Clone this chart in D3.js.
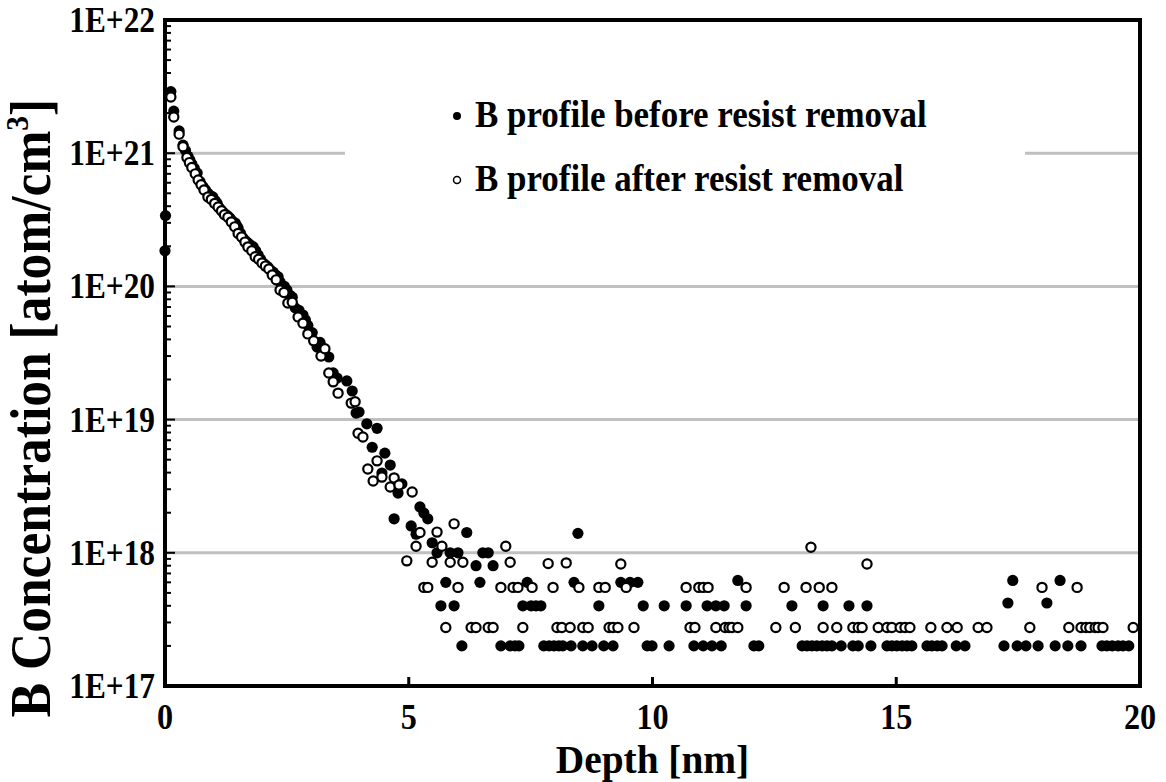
<!DOCTYPE html>
<html>
<head>
<meta charset="utf-8">
<script src="https://cdn.jsdelivr.net/npm/d3@7"></script>
<style>
  body { margin: 0; background: #fff; }
  text { font-family: "Liberation Serif", "Times New Roman", serif; font-weight: bold; fill: #000; }
</style>
</head>
<body>
<svg id="chart"></svg>
<script>
// depth [nm], B concentration [atom/cm3]
let beforeProfile = [
  [0.00, 1.85e20], [0.01, 3.4e20], [0.12, 2.9e21], [0.18, 2.07e21], [0.29, 1.47e21], [0.37, 1.15e21],
  [0.42, 1.05e21], [0.47, 9.5e20], [0.51, 8.9e20], [0.55, 8.3e20], [0.60, 7.7e20], [0.66, 7.1e20],
  [0.72, 6.1e20], [0.78, 5.6e20], [0.83, 5.3e20], [0.88, 5.0e20], [0.93, 4.8e20], [0.98, 4.7e20],
  [1.03, 4.4e20], [1.07, 4.2e20], [1.11, 3.9e20], [1.15, 3.75e20], [1.19, 3.6e20], [1.23, 3.5e20],
  [1.28, 3.4e20], [1.33, 3.27e20], [1.38, 3.1e20], [1.44, 2.99e20], [1.47, 2.85e20], [1.50, 2.74e20],
  [1.55, 2.5e20], [1.60, 2.31e20], [1.65, 2.2e20], [1.70, 2.12e20], [1.75, 2.05e20], [1.81, 1.98e20],
  [1.86, 1.85e20], [1.91, 1.72e20], [1.96, 1.6e20], [2.01, 1.5e20], [2.06, 1.45e20], [2.11, 1.4e20],
  [2.16, 1.33e20], [2.22, 1.28e20], [2.27, 1.22e20], [2.32, 1.18e20], [2.36, 1.08e20], [2.45, 1.0e20],
  [2.50, 9.4e19], [2.56, 8.6e19], [2.61, 8.3e19], [2.67, 6.9e19], [2.75, 6.6e19], [2.83, 6.1e19],
  [2.88, 5.6e19], [2.93, 5.1e19], [3.02, 4.5e19], [3.12, 3.5e19], [3.18, 3.8e19], [3.27, 3.3e19],
  [3.36, 2.95e19], [3.45, 2.24e19], [3.53, 2.05e19], [3.73, 1.95e19], [3.84, 1.64e19], [3.92, 1.12e19],
  [3.98, 1.14e19], [4.14, 9.3e18], [4.25, 6.2e18], [4.35, 8.6e18], [4.45, 3.97e18], [4.51, 5.6e18],
  [4.62, 4.56e18], [4.70, 1.8e18], [4.78, 2.81e18], [4.86, 3.29e18], [5.05, 1.59e18], [5.15, 1.38e18],
  [5.23, 2.21e18], [5.31, 1.99e18], [5.39, 1.8e18], [5.48, 1.19e18], [5.58, 1.0e18], [5.66, 4e17],
  [5.76, 6e17], [5.85, 1.0e18], [5.93, 4e17], [6.01, 1.0e18], [6.09, 2e17], [6.19, 1.42e18],
  [6.38, 8e17], [6.46, 6e17], [6.52, 1.0e18], [6.63, 1.0e18], [6.73, 8e17], [6.89, 2e17],
  [7.08, 2e17], [7.18, 2e17], [7.26, 2e17], [7.34, 4e17], [7.43, 6e17], [7.51, 4e17],
  [7.61, 4e17], [7.71, 4e17], [7.77, 2e17], [7.88, 2e17], [7.98, 2e17], [8.08, 2e17],
  [8.16, 2e17], [8.33, 2e17], [8.39, 6e17], [8.47, 1.4e18], [8.57, 2e17], [8.76, 2e17],
  [8.90, 4e17], [9.00, 2e17], [9.19, 2e17], [9.35, 6e17], [9.54, 6e17], [9.70, 6e17],
  [9.81, 4e17], [9.89, 2e17], [9.99, 2e17], [10.24, 4e17], [10.34, 2e17], [10.69, 4e17],
  [10.85, 2e17], [11.04, 2e17], [11.12, 4e17], [11.22, 2e17], [11.30, 4e17], [11.41, 2e17],
  [11.47, 4e17], [11.75, 6.2e17], [11.92, 4e17], [12.08, 2e17], [12.18, 2e17], [12.86, 4e17],
  [13.07, 2e17], [13.17, 2e17], [13.27, 2e17], [13.37, 2e17], [13.48, 2e17], [13.50, 4e17],
  [13.58, 2e17], [13.68, 2e17], [13.87, 2e17], [14.03, 4e17], [14.11, 2e17], [14.22, 2e17],
  [14.40, 4e17], [14.48, 2e17], [14.81, 2e17], [14.91, 2e17], [15.01, 2e17], [15.12, 2e17],
  [15.22, 2e17], [15.32, 2e17], [15.63, 2e17], [15.73, 2e17], [15.84, 2e17], [15.94, 2e17],
  [16.23, 2e17], [16.41, 2e17], [17.21, 2e17], [17.29, 4.2e17], [17.39, 6.2e17], [17.48, 2e17],
  [17.66, 2e17], [17.91, 2e17], [18.09, 4.2e17], [18.26, 2e17], [18.36, 6.2e17], [18.52, 2e17],
  [18.79, 2e17], [19.22, 2e17], [19.32, 2e17], [19.43, 2e17], [19.55, 2e17], [19.65, 2e17],
  [19.77, 2e17]
];

let afterProfile = [
  [0.12, 2.64e21], [0.18, 1.87e21], [0.29, 1.39e21], [0.37, 1.12e21], [0.45, 9.3e20], [0.50, 8.5e20],
  [0.55, 7.8e20], [0.62, 7.0e20], [0.68, 6.3e20], [0.74, 5.8e20], [0.80, 5.3e20], [0.88, 4.7e20],
  [0.95, 4.5e20], [1.02, 4.2e20], [1.09, 3.95e20], [1.16, 3.7e20], [1.22, 3.45e20], [1.29, 3.3e20],
  [1.36, 3.05e20], [1.43, 2.8e20], [1.50, 2.5e20], [1.57, 2.35e20], [1.64, 2.15e20], [1.70, 1.98e20],
  [1.78, 1.85e20], [1.85, 1.67e20], [1.92, 1.6e20], [1.99, 1.5e20], [2.06, 1.42e20], [2.13, 1.35e20],
  [2.20, 1.22e20], [2.28, 1.12e20], [2.36, 9.4e19], [2.44, 9.0e19], [2.52, 7.5e19], [2.61, 7.6e19],
  [2.73, 5.9e19], [2.83, 5.3e19], [2.93, 4.4e19], [3.05, 3.9e19], [3.20, 3.0e19], [3.28, 3.4e19],
  [3.36, 2.24e19], [3.45, 1.92e19], [3.55, 1.58e19], [3.82, 1.33e19], [3.90, 1.36e19], [3.96, 7.9e18],
  [4.06, 7.4e18], [4.16, 4.26e18], [4.27, 3.46e18], [4.35, 4.9e18], [4.45, 3.7e18], [4.62, 3.12e18],
  [4.70, 3.65e18], [4.80, 3.23e18], [4.96, 8.7e17], [5.07, 2.86e18], [5.15, 1.12e18], [5.23, 1.42e18],
  [5.31, 5.5e17], [5.39, 5.5e17], [5.48, 8.5e17], [5.58, 1.43e18], [5.68, 1.12e18], [5.76, 2.75e17],
  [5.85, 8.5e17], [5.93, 1.65e18], [6.01, 5.5e17], [6.11, 8.5e17], [6.28, 2.75e17], [6.38, 2.75e17],
  [6.63, 2.75e17], [6.73, 2.75e17], [6.89, 5.5e17], [6.99, 1.12e18], [7.08, 8.5e17], [7.14, 5.5e17],
  [7.24, 5.5e17], [7.34, 2.75e17], [7.53, 5.5e17], [7.86, 8.3e17], [7.96, 5.5e17], [8.04, 2.75e17],
  [8.14, 2.75e17], [8.23, 8.4e17], [8.31, 2.75e17], [8.49, 5.5e17], [8.57, 2.75e17], [8.68, 2.75e17],
  [8.90, 5.5e17], [9.03, 5.5e17], [9.11, 2.75e17], [9.19, 2.75e17], [9.29, 2.75e17], [9.35, 8.25e17],
  [9.46, 5.5e17], [9.62, 2.75e17], [10.69, 5.5e17], [10.77, 2.75e17], [10.87, 2.75e17], [10.95, 5.5e17],
  [11.04, 5.5e17], [11.14, 5.5e17], [11.30, 2.75e17], [11.49, 2.75e17], [11.57, 2.75e17], [11.63, 2.75e17],
  [11.75, 2.75e17], [11.92, 5.5e17], [12.53, 2.75e17], [12.70, 5.5e17], [12.93, 2.75e17], [13.15, 5.5e17],
  [13.25, 1.1e18], [13.42, 5.5e17], [13.50, 2.75e17], [13.68, 5.5e17], [13.78, 2.75e17], [14.11, 2.75e17],
  [14.22, 2.75e17], [14.30, 2.75e17], [14.40, 8.25e17], [14.63, 2.75e17], [14.81, 2.75e17], [14.91, 2.75e17],
  [15.08, 2.75e17], [15.18, 2.75e17], [15.28, 2.75e17], [15.71, 2.75e17], [16.04, 2.75e17], [16.25, 2.75e17],
  [16.68, 2.75e17], [16.86, 2.75e17], [17.74, 2.75e17], [17.99, 5.5e17], [18.54, 2.75e17], [18.71, 5.5e17],
  [18.79, 2.75e17], [18.89, 2.75e17], [18.97, 2.75e17], [19.08, 2.75e17], [19.14, 2.75e17], [19.24, 2.75e17],
  [19.86, 2.75e17]
];

let xTicks = [0, 5, 10, 15, 20];
let yTicks = [1e17, 1e18, 1e19, 1e20, 1e21, 1e22];
let yTickLabels = ["1E+17", "1E+18", "1E+19", "1E+20", "1E+21", "1E+22"];
let legendLabels = ["B profile before resist removal", "B profile after resist removal"];

let width = 1166, height = 782;
let svg = d3.select("#chart").attr("width", width).attr("height", height);

let x = d3.scaleLinear().domain([0, 20]).range([165, 1140]);
let y = d3.scaleLog().domain([1e17, 1e22]).range([686, 20]);

// the original lettering is a narrow bold Times, squeeze it a little
function squeezed(sel, sx) {
  return sel.attr("transform", function() {
    let t = d3.select(this);
    return `translate(${t.attr("x")},${t.attr("y")}) scale(${sx},1)`;
  }).attr("x", 0).attr("y", 0);
}

// grid lines at each decade
svg.selectAll(".grid")
  .data(yTicks.slice(1, -1))
  .enter()
  .append("line")
  .attr("x1", x(0)).attr("x2", x(20))
  .attr("y1", d => y(d)).attr("y2", d => y(d))
  .attr("stroke", "#c0c0c0")
  .attr("stroke-width", 3);

// legend background hides the grid line
svg.append("rect")
  .attr("x", 345).attr("y", 88)
  .attr("width", 680).attr("height", 118)
  .attr("fill", "#fff");

let legend = svg.append("g");
legend.append("circle").attr("cx", 457).attr("cy", 116).attr("r", 4).attr("fill", "#000");
legend.append("circle").attr("cx", 457).attr("cy", 180).attr("r", 3.5)
  .attr("fill", "#fff").attr("stroke", "#000").attr("stroke-width", 1.5);
legend.selectAll("text")
  .data(legendLabels)
  .enter()
  .append("text")
  .attr("x", 475)
  .attr("y", (d, i) => 127 + i * 64)
  .attr("font-size", "37px")
  .text(d => d)
  .call(squeezed, 0.945);

// data
svg.append("g")
  .selectAll("circle")
  .data(beforeProfile)
  .enter()
  .append("circle")
  .attr("cx", d => x(d[0]))
  .attr("cy", d => y(d[1]))
  .attr("r", 5.6)
  .attr("fill", "#000");

svg.append("g")
  .selectAll("circle")
  .data(afterProfile)
  .enter()
  .append("circle")
  .attr("cx", d => x(d[0]))
  .attr("cy", d => y(d[1]))
  .attr("r", 4.6)
  .attr("fill", "#fff")
  .attr("stroke", "#000")
  .attr("stroke-width", 2.2);

// frame
svg.append("rect")
  .attr("x", x(0)).attr("y", y(1e22))
  .attr("width", x(20) - x(0)).attr("height", y(1e17) - y(1e22))
  .attr("fill", "none")
  .attr("stroke", "#000")
  .attr("stroke-width", 4);

// y ticks: minor at 2..9 of every decade, major at decades
let minor = [];
d3.range(17, 22).forEach(e => d3.range(2, 10).forEach(k => minor.push(k * Math.pow(10, e))));

svg.selectAll(".ytick")
  .data(minor.concat(yTicks))
  .enter()
  .append("line")
  .attr("x1", x(0))
  .attr("x2", d => x(0) + (yTicks.includes(d) ? 10 : 6))
  .attr("y1", d => y(d)).attr("y2", d => y(d))
  .attr("stroke", "#000")
  .attr("stroke-width", 2);

svg.selectAll(".xtick")
  .data(xTicks.slice(1, -1))
  .enter()
  .append("line")
  .attr("x1", d => x(d)).attr("x2", d => x(d))
  .attr("y1", y(1e17)).attr("y2", y(1e17) - 9)
  .attr("stroke", "#000")
  .attr("stroke-width", 3);

// tick labels
svg.selectAll(".ylabel")
  .data(yTicks)
  .enter()
  .append("text")
  .attr("x", 155)
  .attr("y", d => y(d) + 12)
  .attr("text-anchor", "end")
  .attr("font-size", "36px")
  .text((d, i) => yTickLabels[i])
  .call(squeezed, 0.87);

svg.selectAll(".xlabel")
  .data(xTicks)
  .enter()
  .append("text")
  .attr("x", d => x(d))
  .attr("y", 729)
  .attr("text-anchor", "middle")
  .attr("font-size", "35px")
  .text(d => d)
  .call(squeezed, 0.92);

// axis titles
svg.append("text")
  .attr("x", (x(0) + x(20)) / 2)
  .attr("y", 773)
  .attr("text-anchor", "middle")
  .attr("font-size", "41px")
  .text("Depth [nm]")
  .call(squeezed, 0.96);

let yTitle = svg.append("text")
  .attr("transform", "translate(50,408) rotate(-90) scale(0.92,1)")
  .attr("text-anchor", "middle")
  .attr("font-size", "56px");
yTitle.append("tspan").text("B Concentration [atom/cm");
yTitle.append("tspan").attr("font-size", "32px").attr("dy", -22).text("3");
yTitle.append("tspan").attr("dy", 22).text("]");
</script>
</body>
</html>
